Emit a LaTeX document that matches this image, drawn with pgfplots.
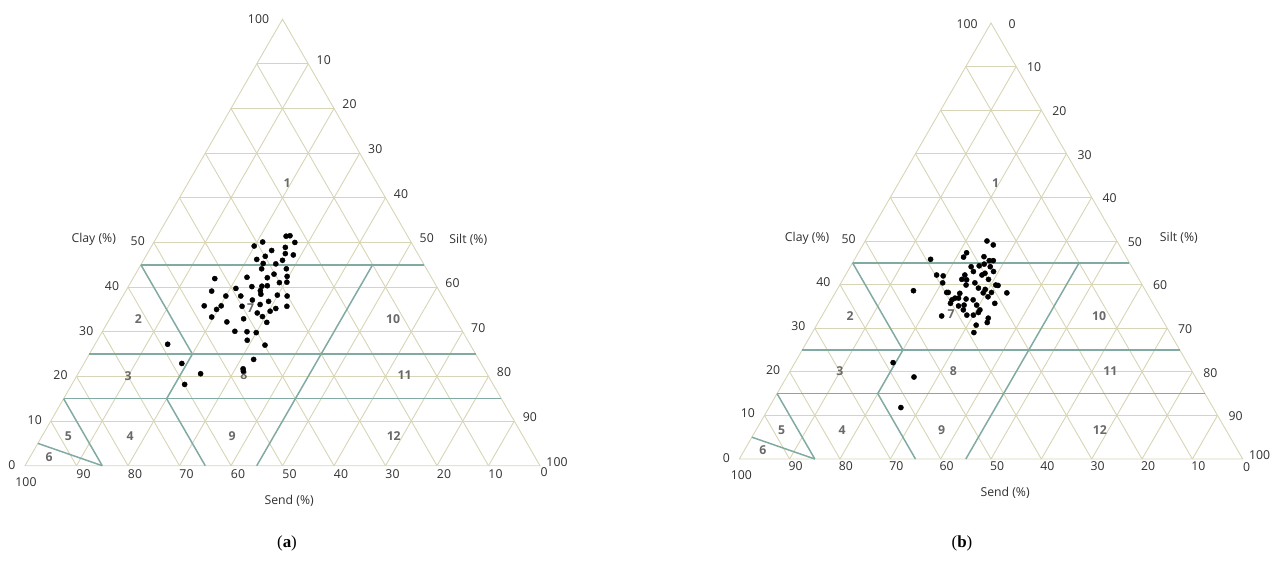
\documentclass[border=0pt]{standalone}
\usepackage{fontspec}
\setmainfont{Open Sans}
\newfontfamily\capfont{Liberation Serif}
\usepackage{pgfplots}
\pgfplotsset{compat=1.18}
\usepackage{pgfplotstable}

\definecolor{gridc}{RGB}{216,212,182}
\definecolor{zonec}{RGB}{128,170,162}
\definecolor{labc}{RGB}{48,48,48}
\definecolor{numc}{RGB}{105,105,105}

\tikzset{
  tlab/.style={font=\fontsize{12.3}{14}\selectfont, text=labc, inner sep=0pt},
  znum/.style={font=\fontsize{12.3}{14}\selectfont\bfseries, text=numc, inner sep=0pt},
}
\pgfplotsset{
  ternbox/.style={scale only axis, hide axis, clip=false, anchor=south west,
    xmin=0, xmax=100, ymin=0, ymax=100, enlargelimits=false},
}

% clay and silt in percent; sand is the rest
\pgfplotstableread{
clay silt
51.4 25.0
51.5 25.7
50.0 27.4
49.2 19.9
50.1 21.1
48.9 26.1
48.2 23.8
46.9 23.2
46.2 21.9
47.5 26.8
47.2 28.5
46.0 27.0
45.3 23.6
45.2 26.1
44.1 23.9
44.1 28.7
42.9 26.9
42.4 29.7
42.1 26.0
42.2 22.0
41.9 15.9
41.0 28.9
41.1 30.3
40.1 24.0
40.2 25.9
40.3 26.9
39.7 21.1
39.1 16.7
39.2 26.1
38.4 26.6
38.0 20.0
38.0 22.9
38.2 29.9
38.0 31.9
37.1 25.6
36.8 28.9
35.8 16.9
35.0 19.7
35.8 20.2
35.7 24.3
36.1 27.6
35.7 33.0
35.2 31.1
34.6 30.3
34.2 28.0
33.4 29.4
33.3 19.6
32.1 30.9
32.2 23.1
32.9 26.0
30.1 25.7
30.0 28.1
29.8 30.0
28.1 29.1
27.0 33.1
23.8 32.5
21.7 31.5
21.2 31.8
22.9 19.0
20.6 23.8
18.2 21.9
27.2 14.1
}\dataA

\pgfplotstableread{
clay silt
50.0 24.2
49.1 25.9
47.3 21.5
46.3 21.4
45.8 15.1
46.4 25.4
45.5 26.9
45.5 27.7
44.1 24.0
44.3 25.5
44.7 26.3
44.1 27.8
43.0 29.0
42.2 18.1
42.0 19.5
42.2 23.7
43.0 25.0
42.2 27.1
42.6 27.5
41.2 23.6
41.1 24.6
40.4 20.2
40.4 26.6
41.2 28.9
39.9 31.0
39.8 31.5
39.9 25.1
39.2 27.9
38.9 29.4
38.1 29.4
38.2 31.0
38.1 34.1
38.6 15.3
38.2 22.1
38.2 22.4
38.0 24.8
36.9 24.4
36.9 25.1
36.5 24.0
36.7 26.7
36.5 28.2
37.2 30.8
35.7 32.9
35.7 24.1
35.1 26.0
35.3 27.0
35.3 29.5
34.2 30.7
34.2 27.4
33.0 28.7
33.0 30.0
33.6 30.7
32.8 23.8
32.3 33.3
31.3 33.6
30.7 31.7
29.0 32.1
22.1 19.5
18.8 25.3
11.8 26.2
}\dataB

% axis x = silt + clay/2, axis y = clay
\newcommand{\ternarygrid}{%
  \foreach \gc in {10,20,...,90}{%
    \pgfmathsetmacro\gh{\gc/2}%
    \pgfmathsetmacro\gr{100-\gc/2}%
    \pgfmathsetmacro\gt{50+\gc/2}%
    \pgfmathsetmacro\gu{100-\gc}%
    \edef\tmp{%
      \noexpand\draw[gridc, line width=0.9pt] (axis cs:\gh,\gc) -- (axis cs:\gr,\gc);%
      \noexpand\draw[gridc, line width=0.9pt] (axis cs:\gc,0) -- (axis cs:\gt,\gu);%
      \noexpand\draw[gridc, line width=0.9pt] (axis cs:\gc,0) -- (axis cs:\gh,\gc);%
    }\tmp
  }%
  \draw[gridc, line width=0.9pt] (axis cs:0,0) -- (axis cs:100,0) -- (axis cs:50,100) -- cycle;
}

\newcommand{\zonelines}{%
  \addplot[zonec, line width=1.5pt] coordinates {(22.5,45) (77.5,45)};
  \addplot[zonec, line width=1.5pt] coordinates {(12.5,25) (87.5,25)};
  \addplot[zonec, line width=1.5pt] coordinates {(7.5,15) (92.5,15)};
  \addplot[zonec, line width=1.5pt] coordinates {(22.5,45) (32.5,25) (27.5,15) (35,0)};
  \addplot[zonec, line width=1.5pt] coordinates {(7.5,15) (15,0)};
  \addplot[zonec, line width=1.5pt] coordinates {(2.5,5) (15,0)};
  \addplot[zonec, line width=1.5pt] coordinates {(67.5,45) (45,0)};
}

% #1,#2: position of class 7
\newcommand{\zonenumbers}[2]{%
  \node[znum] at (axis cs:50.9,63.3) {1};
  \node[znum] at (axis cs:22.0,32.8) {2};
  \node[znum] at (axis cs:20.0,20.1) {3};
  \node[znum] at (axis cs:20.4,6.7) {4};
  \node[znum] at (axis cs:8.4,6.7) {5};
  \node[znum] at (axis cs:4.7,2.0) {6};
  \node[znum] at (axis cs:#1,#2) {7};
  \node[znum] at (axis cs:42.5,20.2) {8};
  \node[znum] at (axis cs:40.2,6.7) {9};
  \node[znum] at (axis cs:71.5,32.8) {10};
  \node[znum] at (axis cs:73.7,20.2) {11};
  \node[znum] at (axis cs:71.6,6.7) {12};
}

% shifts of the left, right and bottom tick labels
\newcommand{\ternarylabels}[6]{%
  \foreach \gc in {10,20,30,40,50}{%
    \pgfmathsetmacro\gh{\gc/2}%
    \edef\tmp{\noexpand\node[tlab, xshift=#1, yshift=#2] at (axis cs:\gh,\gc) {\gc};}\tmp}%
  \foreach \gc in {10,20,...,90}{%
    \pgfmathsetmacro\gt{50+\gc/2}\pgfmathsetmacro\gu{100-\gc}%
    \edef\tmp{\noexpand\node[tlab, xshift=#3, yshift=#4] at (axis cs:\gt,\gu) {\gc};}\tmp}%
  \foreach \gc in {10,20,...,90}{%
    \pgfmathtruncatemacro\gd{100-\gc}%
    \edef\tmp{\noexpand\node[tlab, xshift=#5, yshift=#6] at (axis cs:\gc,0) {\gd};}\tmp}%
}

\begin{document}
\begin{tikzpicture}
\useasboundingbox (0,0) rectangle (1277bp,568bp);

% ---- (a) ----
\begin{axis}[ternbox, at={(25bp,102.3bp)}, width=515bp, height=446.5bp]
  \ternarygrid
  \zonelines
  \addplot[only marks, mark=*, mark size=2.6pt, black]
    table[x expr=\thisrow{silt}+0.5*\thisrow{clay}, y=clay] {\dataA};
  \zonenumbers{43.8}{35.4}
  \ternarylabels{-16bp}{1bp}{15.5bp}{4bp}{7bp}{-8bp}
  \node[tlab, xshift=-13bp, yshift=1bp] at (axis cs:0,0) {0};
  \node[tlab, xshift=1bp, yshift=-16bp] at (axis cs:0,0) {100};
  \node[tlab, xshift=17bp, yshift=4bp] at (axis cs:100,0) {100};
  \node[tlab, xshift=4bp, yshift=-6bp] at (axis cs:100,0) {0};
  \node[tlab, xshift=-24bp, yshift=0bp] at (axis cs:50,100) {100};
  \node[tlab, xshift=-60bp, yshift=3bp] at (axis cs:25,50) {Clay (\%)};
  \node[tlab, xshift=57bp, yshift=3bp] at (axis cs:75,50) {Silt (\%)};
  \node[tlab, yshift=-35bp] at (axis cs:51.3,0) {Send (\%)};
\end{axis}

% ---- (b) ----
\begin{axis}[ternbox, at={(739.3bp,109bp)}, width=503.4bp, height=436bp]
  \ternarygrid
  \zonelines
  \addplot[only marks, mark=*, mark size=2.6pt, black]
    table[x expr=\thisrow{silt}+0.5*\thisrow{clay}, y=clay] {\dataB};
  \zonenumbers{42.1}{33.3}
  \ternarylabels{-16.5bp}{2bp}{18bp}{-1bp}{6bp}{-7bp}
  \node[tlab, xshift=-13bp, yshift=1bp] at (axis cs:0,0) {0};
  \node[tlab, xshift=2bp, yshift=-16bp] at (axis cs:0,0) {100};
  \node[tlab, xshift=17bp, yshift=4bp] at (axis cs:100,0) {100};
  \node[tlab, xshift=4bp, yshift=-8bp] at (axis cs:100,0) {0};
  \node[tlab, xshift=-24bp, yshift=-1bp] at (axis cs:50,100) {100};
  \node[tlab, xshift=21bp, yshift=-1bp] at (axis cs:50,100) {0};
  \node[tlab, xshift=-58bp, yshift=3bp] at (axis cs:25,50) {Clay (\%)};
  \node[tlab, xshift=62bp, yshift=3bp] at (axis cs:75,50) {Silt (\%)};
  \node[tlab, yshift=-34bp] at (axis cs:52.8,0) {Send (\%)};
\end{axis}

\node[font=\capfont\fontsize{17}{19}\selectfont] at (287bp,25bp) {(\textbf{a})};
\node[font=\capfont\fontsize{17}{19}\selectfont] at (962bp,25bp) {(\textbf{b})};
\end{tikzpicture}
\end{document}
